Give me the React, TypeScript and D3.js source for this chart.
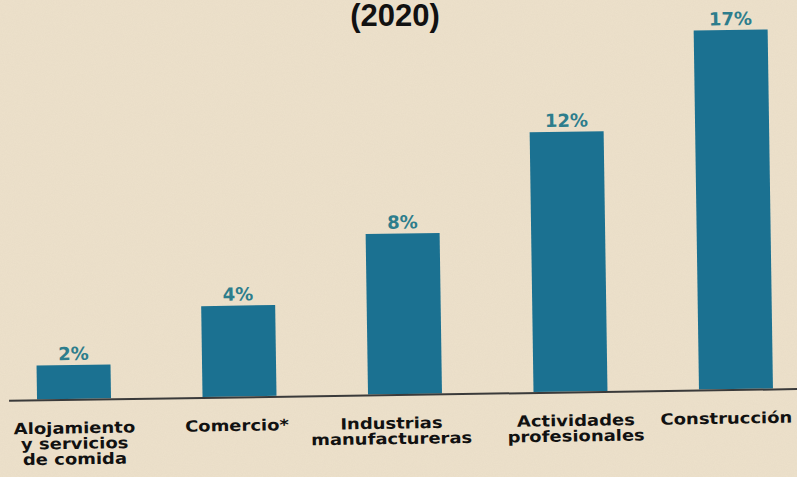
import React from "react";
import * as d3 from "d3";

const title = "(2020)";
const categories: string[][] = [
  ["Alojamiento", "y servicios", "de comida"],
  ["Comercio*"],
  ["Industrias", "manufactureras"],
  ["Actividades", "profesionales"],
  ["Construcción"],
];
const values = [1.6, 4.3, 7.6, 12.3, 17.0];
const valueLabels = ["2%", "4%", "8%", "12%", "17%"];

const W = 797;
const H = 477;
const BASE = 394;
const labelNudge = [0, -3, -14, 5, -10];

export default function App() {
  const ids = categories.map((_, i) => String(i));
  const x = d3.scaleBand<string>().domain(ids).range([37, 773]).paddingInner(0.553).paddingOuter(0);
  const y = d3.scaleLinear().domain([0, 17]).range([BASE, 35]);
  const FS = 15.5;
  const SX = 1.16;

  return (
    <svg
      width={W}
      height={H}
      viewBox={`0 0 ${W} ${H}`}
      style={{ position: "absolute", left: 0, top: 0, display: "block" }}
    >
      <defs>
        <filter id="paper" x="0" y="0" width="100%" height="100%">
          <feTurbulence type="fractalNoise" baseFrequency="0.9" numOctaves="2" seed="3" result="n" />
          <feColorMatrix
            type="matrix"
            values="0 0 0 0 0.55  0 0 0 0 0.48  0 0 0 0 0.38  0 0 0 0.18 0"
          />
        </filter>
      </defs>
      <rect x={0} y={0} width={W} height={H} fill="#ede1cb" />
      <rect x={0} y={0} width={W} height={H} filter="url(#paper)" opacity={0.6} />
      <text
        x={395}
        y={26}
        textAnchor="middle"
        fontFamily="'Liberation Sans', Arial, sans-serif"
        fontWeight="bold"
        fontSize={31}
        fill="#111"
      >
        {title}
      </text>
      <g transform={`rotate(-0.85, 400, ${BASE})`}>
        {values.map((v, i) => {
          const bx = x(String(i)) as number;
          const bw = x.bandwidth();
          const cx = bx + bw / 2;
          return (
            <g key={i}>
              <rect x={bx} y={y(v)} width={bw} height={BASE - y(v)} fill="#1b7191" />
              <text
                x={cx}
                y={y(v) - 5}
                textAnchor="middle"
                fontFamily="'DejaVu Sans', sans-serif"
                fontWeight="bold"
                fontSize={18}
                fill="#2d7d8c"
              >
                {valueLabels[i]}
              </text>
              <g transform={`translate(${cx + labelNudge[i]}, 0) scale(${SX}, 1)`}>
                <text
                  x={0}
                  y={428.5}
                  textAnchor="middle"
                  fontFamily="'DejaVu Sans', sans-serif"
                  fontWeight="bold"
                  fontSize={FS}
                  fill="#111"
                >
                  {categories[i].map((line, j) => (
                    <tspan key={j} x={0} dy={j === 0 ? 0 : 15.5}>
                      {line}
                    </tspan>
                  ))}
                </text>
              </g>
            </g>
          );
        })}
        <line x1={9} x2={805} y1={BASE + 1} y2={BASE + 1} stroke="#3a3a3a" strokeWidth={2} />
      </g>
    </svg>
  );
}
